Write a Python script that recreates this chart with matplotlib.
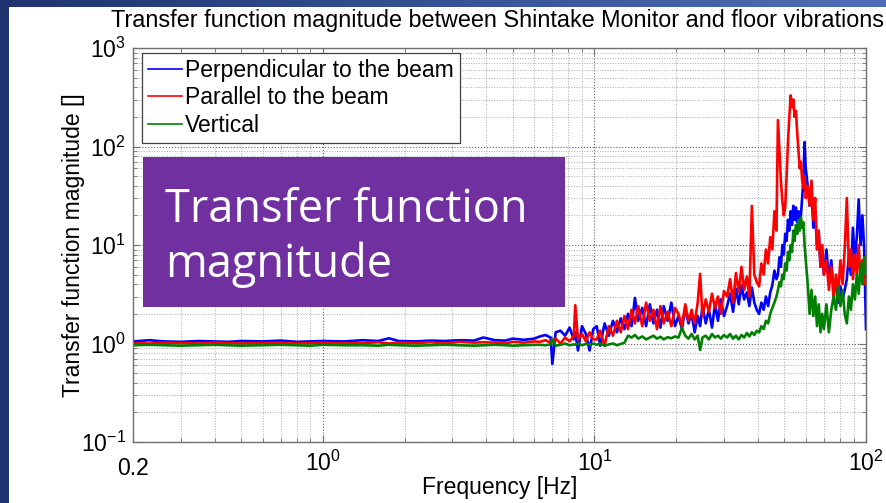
import matplotlib
matplotlib.use('Agg')
import matplotlib.pyplot as plt
import matplotlib.transforms as mtransforms
import numpy as np
from matplotlib.patches import Rectangle
from matplotlib.ticker import LogLocator, NullFormatter

plt.rcParams['font.family'] = ['Liberation Sans', 'DejaVu Sans']
plt.rcParams['mathtext.fontset'] = 'custom'
plt.rcParams['mathtext.rm'] = 'Liberation Sans'

# frequency samples [Hz]
freq = [
    0.2, 0.23, 0.26, 0.3, 0.35, 0.4, 0.45, 0.5, 0.6, 0.7, 0.8, 0.9, 1.0, 1.2, 1.4,
    1.6, 1.75, 1.9, 2.2, 2.5, 2.8, 3.2, 3.6, 3.9, 4.3, 4.7, 5.0, 5.5, 6.0,
    6.3, 6.6, 6.9, 7.0, 7.2, 7.5, 7.8, 8.1, 8.4, 8.5, 8.7, 9.0, 9.3, 9.6, 9.9,
    10.2, 10.5, 10.9, 11.3, 11.7, 12.1, 12.5, 12.9, 13.3, 13.7, 14.1, 14.5, 15.0,
    15.5, 16.0, 16.5, 17.0, 17.5, 18.0, 18.6, 19.2, 19.8,
    20.4, 21.0, 21.6, 22.2, 22.8, 23.4, 24.0, 24.5, 25.0, 25.7, 26.4, 27.1, 27.8,
    28.5, 29.2, 30.0,
    30.8, 31.6, 32.4, 33.2, 34.0, 34.8, 35.6, 36.4, 37.2, 38.0, 38.8, 39.6, 40.4,
    41.2, 42.0, 42.8, 43.6, 44.4, 45.2, 46.0, 46.8,
    47.4, 48.0, 48.6, 49.2, 49.8, 50.4, 51.0, 51.6, 52.2, 52.8, 53.4, 54.0, 54.6,
    55.2, 55.8, 56.4, 57.0, 57.6, 58.2, 58.8, 59.4, 60.0,
    61, 62, 63, 64, 65, 66, 67, 68, 69, 70,
    71.5, 73, 74.5, 76, 77.5, 79, 80.5, 82, 83.5, 85, 86.5, 88, 89.5, 91, 92.5,
    94, 95.5, 97, 98.5, 100,
]

perpendicular = [
    1.05, 1.08, 1.05, 1.04, 1.06, 1.05, 1.04, 1.06, 1.05, 1.07, 1.04, 1.05, 1.06, 1.05, 1.08,
    1.06, 1.13, 1.06, 1.05, 1.07, 1.06, 1.08, 1.07, 1.15, 1.08, 1.07, 1.12, 1.09, 1.12,
    1.18, 1.22, 1.15, 0.62, 1.3, 1.35, 1.2, 1.45, 1.1, 1.3, 0.85, 1.5, 1.25, 0.85, 1.4,
    1.5, 0.95, 1.6, 1.2, 1.7, 1.3, 1.8, 1.4, 2.0, 1.5, 2.9, 1.7, 2.3,
    1.5, 2.5, 1.6, 2.2, 1.45, 2.4, 1.7, 2.6, 1.5,
    1.9, 1.4, 2.3, 1.6, 2.0, 1.3, 1.9, 1.5, 2.4, 1.6, 2.2, 1.45, 2.5,
    1.7, 2.8, 1.9,
    2.4, 3.2, 2.1, 3.6, 2.5, 3.9, 2.8, 3.3, 2.4, 3.7, 2.6, 2.2, 2.0,
    2.6, 2.2, 3.0, 2.4, 3.3, 3.9, 5.5, 4.5,
    5.0, 7.5, 6.0, 10, 8, 13, 11, 18, 14, 22, 16, 25, 18,
    24, 17, 22, 15, 20, 30, 45, 111, 60,
    40, 25, 35, 15, 20, 10, 13, 6, 8, 5,
    9, 4.5, 7, 3.5, 4, 2.6, 3.8, 2.8, 3.5, 4.5, 8, 5, 15, 7, 12,
    29, 10, 20, 9, 1.4,
]

parallel = [
    1.01, 1.0, 1.02, 1.01, 1.0, 1.02, 1.01, 1.0, 1.01, 1.02, 1.0, 1.01, 1.02, 1.0, 1.01,
    1.03, 1.0, 1.02, 1.01, 1.03, 1.0, 1.04, 1.02, 1.03, 1.02, 1.0, 1.04, 1.02, 1.05,
    1.04, 1.08, 1.02, 1.05, 1.12, 1.0, 1.15, 1.05, 1.2, 2.45, 1.1, 1.25, 1.05, 1.3, 1.1,
    1.1, 1.35, 0.95, 1.5, 1.2, 1.7, 1.3, 1.9, 1.4, 2.2, 1.6, 2.4, 1.5,
    2.6, 1.7, 2.2, 1.4, 2.4, 1.6, 2.1, 1.5, 2.3,
    2.0, 1.5, 2.5, 1.7, 2.2, 1.6, 2.6, 5.1, 1.9, 2.8, 2.1, 3.2, 2.3,
    3.0, 2.0, 3.4,
    3.0, 4.5, 2.6, 5.2, 3.3, 6.0, 3.5, 4.8, 3.0, 25.0, 5.0, 4.2, 3.8,
    6.5, 5.0, 9.0, 6.5, 12.0, 9.0, 22.0, 14.0,
    185, 90, 45, 28, 20, 24, 50, 110, 200, 330, 250, 300, 200,
    230, 140, 90, 60, 70, 45, 38, 50, 30,
    40, 25, 45, 18, 30, 9, 14, 6, 10, 5,
    7, 3.5, 6, 2.8, 5, 3.2, 7, 4, 9, 30, 6, 9, 4.5, 8, 5,
    10, 4.5, 7, 4, 4.4,
]

vertical = [
    0.96, 0.97, 0.96, 0.95, 0.96, 0.97, 0.96, 0.95, 0.96, 0.97, 0.96, 0.95, 0.97, 0.96, 0.96,
    0.95, 0.97, 0.96, 0.95, 0.96, 0.97, 0.96, 0.95, 0.96, 0.97, 0.96, 0.95, 0.96, 0.97,
    0.97, 0.96, 0.98, 1.12, 0.95, 0.97, 1.0, 0.96, 0.98, 0.97, 1.0, 0.96, 0.99, 0.97, 1.0,
    0.97, 1.0, 0.95, 0.98, 1.0, 0.96, 0.99, 1.02, 1.2, 1.15, 1.22, 1.12, 1.18,
    1.1, 1.15, 1.2, 1.12, 1.17, 1.1, 1.16, 1.13, 1.18,
    1.15, 1.44, 1.2, 1.12, 1.25, 1.1, 1.2, 0.86, 1.15, 1.2, 1.1, 1.25, 1.15,
    1.2, 1.12, 1.22,
    1.15, 1.25, 1.12, 1.2, 1.1, 1.22, 1.15, 1.28, 1.18, 1.3, 1.22, 1.35, 1.3,
    1.5, 1.4, 1.7, 1.6, 2.0, 2.3, 2.6, 3.0,
    3.5, 4.2, 3.8, 5.0, 4.5, 6.5, 5.5, 8.5, 7.0, 10, 8.5, 14, 11,
    16, 13, 18, 14, 19, 15, 17, 10, 7,
    4.0, 2.0, 3.5, 1.9, 3.0, 1.5, 2.5, 1.3, 2.0, 1.4,
    2.5, 1.3, 2.2, 3.0, 2.2, 3.8, 2.4, 3.5, 2.0, 1.6, 3.0, 2.2, 4.0, 2.8, 5.0,
    3.2, 6.5, 4.0, 7.5, 5.0,
]

series_labels = ['Perpendicular to the beam', 'Parallel to the beam', 'Vertical']
series_colors = ['#0000ff', '#ff0000', '#008000']

x_ticks = [0.2, 1, 10, 100]
x_ticklabels = ['0.2', r'$\mathregular{10^{0}}$', r'$\mathregular{10^{1}}$', r'$\mathregular{10^{2}}$']
y_ticks = [0.1, 1, 10, 100, 1000]
y_ticklabels = [r'$\mathregular{10^{-1}}$', r'$\mathregular{10^{0}}$', r'$\mathregular{10^{1}}$',
                r'$\mathregular{10^{2}}$', r'$\mathregular{10^{3}}$']

W, H = 887, 503
fig = plt.figure(figsize=(W / 100, H / 100), dpi=100)
fig.patch.set_facecolor('#1f3470')

# slide header strip: dark to light blue
bg = fig.add_axes([0, 1 - 7 / H, 1, 7 / H], zorder=-3)
bg.imshow(np.linspace(0, 1, 256)[None, :], aspect='auto',
          cmap=matplotlib.colors.LinearSegmentedColormap.from_list('hdr', ['#1f3470', '#4f6fb8']),
          extent=[0, 1, 0, 1])
bg.axis('off')

# white content panel
fig.patches.append(Rectangle((9 / W, 0), 1 - 9 / W, 1 - 7 / H, transform=fig.transFigure,
                             facecolor='white', edgecolor='none', zorder=-2))

ax = fig.add_axes([133 / W, (H - 442) / H, (866 - 133) / W, (442 - 48) / H])
ax.set_facecolor('white')

for vals, lab, col in zip([perpendicular, parallel, vertical], series_labels, series_colors):
    ax.plot(freq, vals, color=col, linewidth=1.9, label=lab)

ax.set_xscale('log')
ax.set_yscale('log')
ax.set_xlim(0.2, 100)
ax.set_ylim(0.1, 1000)

ax.set_xticks(x_ticks)
ax.set_xticklabels(x_ticklabels)
ax.set_yticks(y_ticks)
ax.set_yticklabels(y_ticklabels)
ax.xaxis.set_minor_locator(LogLocator(base=10, subs=np.arange(2, 10)))
ax.yaxis.set_minor_locator(LogLocator(base=10, subs=np.arange(2, 10)))
ax.xaxis.set_minor_formatter(NullFormatter())
ax.yaxis.set_minor_formatter(NullFormatter())

ax.grid(True, which='major', linestyle=':', color='#606060', linewidth=0.8)
ax.grid(True, which='minor', linestyle=':', color='#a8a8a8', linewidth=0.7)
ax.tick_params(which='both', direction='in', top=True, right=True, color='#707070')
ax.tick_params(which='major', length=5, labelsize=16.5)
ax.tick_params(axis='x', which='major', pad=6)
ax.tick_params(axis='y', which='major', pad=5)
ax.tick_params(which='minor', length=3)
for sp in ax.spines.values():
    sp.set_color('#707070')
    sp.set_linewidth(1.0)

# plain "0.2" sits on the same baseline as the 10^n labels
shift = mtransforms.ScaledTranslation(0, -7 / 100, fig.dpi_scale_trans)
xt0 = ax.get_xticklabels()[0]
xt0.set_transform(xt0.get_transform() + shift)

ax.set_xlabel('Frequency [Hz]', fontsize=16.5)
ax.xaxis.set_label_coords(0.5, -(476 - 442) / (442 - 48))
ax.xaxis.label.set_va('top')
ax.set_ylabel('Transfer function magnitude []', fontsize=16.5)
ax.yaxis.set_label_coords(-(133 - 85) / (866 - 133), 0.5)

leg = ax.legend(loc='upper left', bbox_to_anchor=(142 / W, 1 - 53 / H),
                bbox_transform=fig.transFigure, borderaxespad=0, fontsize=16.5,
                handlelength=1.5, handletextpad=0.13, labelspacing=0.2,
                borderpad=0.25, fancybox=False, framealpha=1)
leg.get_frame().set_edgecolor('#404040')
leg.get_frame().set_linewidth(0.9)
for ln in leg.get_lines():
    ln.set_linewidth(1.2)

fig.text(498 / W, 1 - 20 / H,
         'Transfer function magnitude between Shintake Monitor and floor vibrations',
         ha='center', va='center', fontsize=16.8)

# purple call-out box
fig.patches.append(Rectangle((143 / W, 1 - 307 / H), (565 - 143) / W, (307 - 157) / H,
                             transform=fig.transFigure, facecolor='#7030a0',
                             edgecolor='none', zorder=2))
fig.text(165 / W, 1 - 222 / H, 'Transfer function', color='white', fontsize=32.5,
         family='Open Sans', va='baseline', zorder=3)
fig.text(165 / W, 1 - 277 / H, 'magnitude', color='white', fontsize=32.5,
         family='Open Sans', va='baseline', zorder=3)

fig.savefig('out.png', dpi=100, facecolor=fig.get_facecolor())
